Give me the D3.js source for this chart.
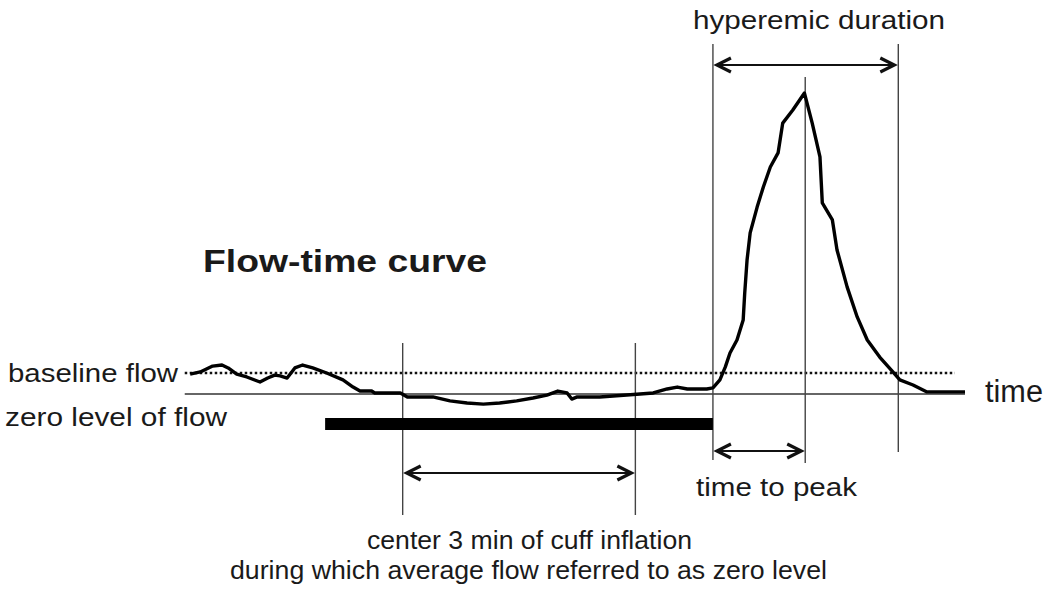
<!DOCTYPE html>
<html>
<head>
<meta charset="utf-8">
<script src="https://cdn.jsdelivr.net/npm/d3@7"></script>
<style>
  body { margin: 0; background: #fff; }
  text { font-family: Arial, "Liberation Sans", sans-serif; fill: #1a1a1a; }
</style>
</head>
<body>
<svg id="chart" width="1050" height="592"></svg>
<script>
// flow-time curve, time in minutes, flow relative to baseline (baseline = 1)
var timeMin = [0.26, 0.39, 0.55, 0.67, 0.75, 0.86, 0.99, 1.16, 1.26, 1.35, 1.42, 1.51, 1.61, 1.71, 1.84,
  2.02, 2.23, 2.36, 2.45, 2.60, 2.64, 2.97, 3.06, 3.18, 3.39, 3.61, 3.83, 4.04, 4.25, 4.47, 4.68,
  4.86, 5.00, 5.12, 5.18, 5.25, 5.54, 5.89, 6.23, 6.41, 6.54, 6.67, 6.92, 7.00, 7.09, 7.16, 7.22,
  7.31, 7.39, 7.41, 7.44, 7.48, 7.57, 7.65, 7.74, 7.84, 7.90, 8.03, 8.18, 8.28, 8.38, 8.41, 8.54,
  8.60, 8.73, 8.86, 8.99, 9.15, 9.32, 9.41, 9.58, 9.76, 10.25];
var flow = [0.95, 1.05, 1.33, 1.38, 1.24, 0.95, 0.81, 0.57, 0.76, 0.90, 0.86, 0.76, 1.24, 1.38, 1.24,
  1.00, 0.67, 0.33, 0.14, 0.14, 0.05, 0.05, -0.14, -0.14, -0.14, -0.33, -0.43, -0.48, -0.43, -0.33, -0.19,
  -0.05, 0.14, 0.05, -0.24, -0.14, -0.14, -0.05, 0.05, 0.24, 0.33, 0.24, 0.24, 0.29, 0.67, 1.29, 1.95,
  2.57, 3.52, 4.81, 6.38, 7.67, 8.90, 9.86, 10.81, 11.48, 12.90, 13.52, 14.33, 12.90, 11.29, 9.10, 8.29,
  6.86, 5.10, 3.67, 2.57, 1.76, 1.05, 0.67, 0.43, 0.10, 0.10];

// event times (minutes)
var cuffStart = 2, cuffEnd = 7;
var centerStart = 3, centerEnd = 6;
var peakTime = 8.19, hyperEnd = 9.39;
var axisStart = 0.19, axisEnd = 10.25, dottedEnd = 10.12;
var baselineFlow = 1;

var titleText = "Flow-time curve";
var baselineLabel = "baseline flow";
var zeroLabel = "zero level of flow";
var timeLabel = "time";
var hyperLabel = "hyperemic duration";
var peakLabel = "time to peak";
var centerLabel1 = "center 3 min of cuff inflation";
var centerLabel2 = "during which average flow referred to as zero level";

var svg = d3.select("#chart");

var x = d3.scaleLinear().domain([0, 10.25]).range([170, 965]);
var y = d3.scaleLinear().domain([0, 15]).range([394, 79]);

var data = timeMin.map(function(t, i) { return {t: t, f: flow[i]}; });

// zero level line
svg.append("line")
  .attr("x1", x(axisStart)).attr("x2", x(axisEnd))
  .attr("y1", y(0)).attr("y2", y(0))
  .attr("stroke", "#333").attr("stroke-width", 1.3);

// baseline (dotted)
svg.append("line")
  .attr("x1", x(axisStart)).attr("x2", x(dottedEnd))
  .attr("y1", y(baselineFlow)).attr("y2", y(baselineFlow))
  .attr("stroke", "#111").attr("stroke-width", 2.5)
  .attr("stroke-dasharray", "2.5,2.5");

// vertical markers
var markers = [
  {t: centerStart, top: 343, bottom: 515},
  {t: centerEnd, top: 343, bottom: 515},
  {t: cuffEnd, top: 44, bottom: 460},
  {t: peakTime, top: 77, bottom: 463},
  {t: hyperEnd, top: 44, bottom: 452}
];
svg.selectAll(".marker").data(markers).enter().append("line")
  .attr("class", "marker")
  .attr("x1", function(d) { return x(d.t); })
  .attr("x2", function(d) { return x(d.t); })
  .attr("y1", function(d) { return d.top; })
  .attr("y2", function(d) { return d.bottom; })
  .attr("stroke", "#444").attr("stroke-width", 1.4);

// cuff inflation bar
svg.append("rect")
  .attr("x", x(cuffStart)).attr("width", x(cuffEnd) - x(cuffStart))
  .attr("y", 418).attr("height", 12)
  .attr("fill", "#000");

// the curve
var line = d3.line()
  .x(function(d) { return x(d.t); })
  .y(function(d) { return y(d.f); });

svg.append("path")
  .datum(data)
  .attr("d", line)
  .attr("fill", "none")
  .attr("stroke", "#000")
  .attr("stroke-width", 3.4)
  .attr("stroke-linejoin", "round");

// double arrows
function arrow(t1, t2, yy) {
  var x1 = x(t1) + 4, x2 = x(t2) - 4;
  var g = svg.append("g").attr("stroke", "#111").attr("fill", "none");
  g.append("line").attr("x1", x1).attr("x2", x2).attr("y1", yy).attr("y2", yy)
    .attr("stroke-width", 1.8);
  g.append("path")
    .attr("d", "M" + (x1 + 14) + "," + (yy - 7) + "L" + x1 + "," + yy + "L" + (x1 + 14) + "," + (yy + 7))
    .attr("stroke-width", 3.2);
  g.append("path")
    .attr("d", "M" + (x2 - 14) + "," + (yy - 7) + "L" + x2 + "," + yy + "L" + (x2 - 14) + "," + (yy + 7))
    .attr("stroke-width", 3.2);
}
arrow(cuffEnd, hyperEnd, 65);
arrow(cuffEnd, peakTime, 451);
arrow(centerStart, centerEnd, 473);

// labels
function label(txt, xx, yy, size, len, weight) {
  svg.append("text")
    .attr("x", xx).attr("y", yy)
    .attr("font-size", size)
    .attr("font-weight", weight || "normal")
    .attr("textLength", len)
    .attr("lengthAdjust", "spacingAndGlyphs")
    .text(txt);
}
label(titleText, 203, 272, 32, 284, "bold");
label(baselineLabel, 8, 382, 26, 170);
label(zeroLabel, 5, 426, 26, 222);
label(timeLabel, 985, 402, 31, 58);
label(hyperLabel, 693, 29, 25, 252);
label(peakLabel, 696, 496, 26, 161);
label(centerLabel1, 367, 549, 26, 325);
label(centerLabel2, 230, 579, 26, 597);
</script>
</body>
</html>
